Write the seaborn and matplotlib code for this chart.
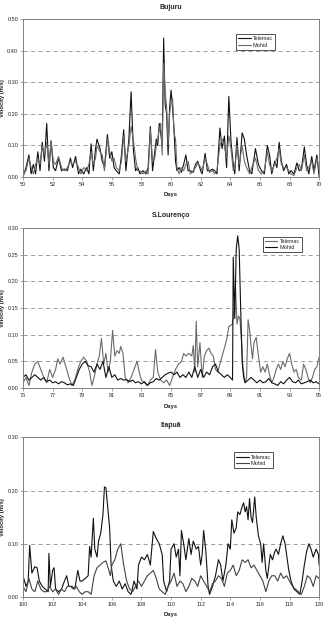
import numpy as np
import pandas as pd
import matplotlib
matplotlib.use("Agg")
import matplotlib.pyplot as plt
import seaborn as sns

# Bujuru (days 50-70), both series share the sample times
bujuru_days = [50.0, 50.2, 50.4, 50.55, 50.7, 50.85, 51.0, 51.15, 51.3, 51.45, 51.6, 51.75, 51.9, 52.05,
               52.2, 52.4, 52.6, 52.8, 53.0, 53.2, 53.35, 53.55, 53.75, 53.9, 54.1, 54.3, 54.45, 54.6,
               54.75, 54.9, 55.0, 55.2, 55.35, 55.5, 55.7, 55.85, 56.0, 56.15, 56.3, 56.5, 56.65, 56.8,
               56.95, 57.15, 57.3, 57.45, 57.6, 57.75, 57.9, 58.1, 58.3, 58.45, 58.6, 58.75, 58.9, 59.0,
               59.1, 59.2, 59.3, 59.4, 59.5, 59.6, 59.7, 59.8, 59.9, 60.0, 60.1, 60.2, 60.3, 60.4, 60.55,
               60.7, 60.85, 61.0, 61.15, 61.3, 61.5, 61.65, 61.8, 62.0, 62.1, 62.3, 62.45, 62.6, 62.8,
               62.95, 63.1, 63.3, 63.45, 63.6, 63.75, 63.9, 64.05, 64.2, 64.3, 64.45, 64.6, 64.8, 64.95,
               65.1, 65.3, 65.45, 65.7, 65.9, 66.1, 66.3, 66.5, 66.65, 66.8, 67.0, 67.15, 67.3, 67.45,
               67.6, 67.8, 67.95, 68.1, 68.3, 68.5, 68.65, 68.8, 69.0, 69.15, 69.3, 69.5, 69.65, 69.85, 70.0]
bujuru_telemac = [0.00, 0.03, 0.07, 0.01, 0.04, 0.01, 0.08, 0.02, 0.11, 0.05, 0.17, 0.02, 0.115, 0.03,
                  0.02, 0.06, 0.02, 0.025, 0.02, 0.06, 0.03, 0.065, 0.01, 0.025, 0.01, 0.03, 0.01, 0.105,
                  0.02, 0.09, 0.12, 0.09, 0.05, 0.03, 0.135, 0.06, 0.08, 0.03, 0.02, 0.01, 0.07, 0.15,
                  0.02, 0.12, 0.27, 0.09, 0.02, 0.03, 0.01, 0.02, 0.01, 0.03, 0.16, 0.02, 0.08, 0.12,
                  0.10, 0.17, 0.14, 0.10, 0.44, 0.23, 0.20, 0.07, 0.22, 0.275, 0.22, 0.15, 0.05, 0.02, 0.03,
                  0.015, 0.04, 0.07, 0.02, 0.02, 0.015, 0.04, 0.05, 0.02, 0.01, 0.075, 0.02, 0.02, 0.025,
                  0.02, 0.01, 0.155, 0.09, 0.13, 0.03, 0.255, 0.11, 0.04, 0.01, 0.125, 0.02, 0.14, 0.12,
                  0.07, 0.02, 0.01, 0.09, 0.04, 0.02, 0.01, 0.10, 0.07, 0.01, 0.05, 0.03, 0.11, 0.05,
                  0.02, 0.04, 0.01, 0.02, 0.01, 0.045, 0.02, 0.025, 0.095, 0.04, 0.01, 0.065, 0.02, 0.07, 0.00]
bujuru_mohid = [0.01, 0.02, 0.06, 0.03, 0.01, 0.04, 0.06, 0.04, 0.10, 0.07, 0.11, 0.04, 0.11, 0.05,
                0.04, 0.065, 0.03, 0.02, 0.03, 0.05, 0.04, 0.05, 0.03, 0.01, 0.03, 0.02, 0.04, 0.08,
                0.04, 0.06, 0.10, 0.08, 0.07, 0.02, 0.12, 0.08, 0.05, 0.06, 0.03, 0.02, 0.05, 0.13,
                0.05, 0.10, 0.16, 0.12, 0.06, 0.02, 0.02, 0.01, 0.02, 0.01, 0.15, 0.05, 0.06, 0.10,
                0.12, 0.15, 0.17, 0.07, 0.36, 0.27, 0.22, 0.10, 0.20, 0.24, 0.25, 0.14, 0.12, 0.03, 0.01,
                0.03, 0.02, 0.04, 0.05, 0.01, 0.02, 0.03, 0.045, 0.03, 0.02, 0.06, 0.04, 0.015, 0.02,
                0.01, 0.02, 0.10, 0.12, 0.10, 0.06, 0.13, 0.09, 0.02, 0.03, 0.10, 0.04, 0.10, 0.05,
                0.03, 0.01, 0.03, 0.06, 0.02, 0.01, 0.02, 0.08, 0.04, 0.02, 0.04, 0.06, 0.09, 0.04,
                0.03, 0.03, 0.02, 0.01, 0.005, 0.03, 0.04, 0.02, 0.07, 0.02, 0.03, 0.05, 0.01, 0.06, 0.02]

# S.Lourenco (days 75-95)
lourenco_tel_days = [75.0, 75.2, 75.4, 75.6, 75.8, 76.0, 76.2, 76.4, 76.6, 76.8, 77.0, 77.2, 77.35, 77.5,
                     77.7, 77.9, 78.1, 78.3, 78.5, 78.7, 78.9, 79.1, 79.3, 79.5, 79.65, 79.8, 80.0, 80.15,
                     80.3, 80.45, 80.6, 80.75, 80.9, 81.05, 81.2, 81.35, 81.5, 81.6, 81.75, 81.9, 82.1,
                     82.3, 82.5, 82.7, 82.85, 83.0, 83.2, 83.4, 83.6, 83.8, 83.95, 84.1, 84.3, 84.5, 84.7,
                     84.9, 85.1, 85.3, 85.5, 85.7, 85.85, 86.0, 86.2, 86.4, 86.5, 86.6, 86.7, 86.8, 86.95,
                     87.1, 87.25, 87.4, 87.55, 87.7, 87.85, 88.0, 88.15, 88.3, 88.45, 88.6, 88.75, 88.9,
                     89.05, 89.15, 89.25, 89.35, 89.45, 89.55, 89.65, 89.75, 89.85, 90.0, 90.1, 90.2, 90.3,
                     90.4, 90.5, 90.6, 90.75, 90.9, 91.05, 91.2, 91.35, 91.5, 91.65, 91.8, 91.95, 92.1,
                     92.25, 92.4, 92.55, 92.7, 92.85, 93.0, 93.15, 93.3, 93.45, 93.6, 93.8, 93.95, 94.1,
                     94.25, 94.4, 94.55, 94.7, 94.85, 95.0]
lourenco_telemac = [0.01, 0.02, 0.005, 0.03, 0.045, 0.05, 0.035, 0.02, 0.01, 0.035, 0.02, 0.035, 0.055, 0.045,
                    0.058, 0.04, 0.02, 0.005, 0.015, 0.035, 0.05, 0.058, 0.05, 0.03, 0.005, 0.02, 0.045, 0.06,
                    0.093, 0.045, 0.065, 0.03, 0.05, 0.108, 0.06, 0.07, 0.065, 0.078, 0.065, 0.02, 0.01,
                    0.02, 0.035, 0.05, 0.03, 0.015, 0.01, 0.005, 0.015, 0.02, 0.072, 0.03, 0.015, 0.01, 0.015,
                    0.005, 0.02, 0.035, 0.045, 0.05, 0.065, 0.06, 0.065, 0.06, 0.08, 0.03, 0.125, 0.04, 0.085,
                    0.02, 0.06, 0.07, 0.075, 0.065, 0.06, 0.035, 0.03, 0.045, 0.06, 0.075, 0.09, 0.115,
                    0.118, 0.12, 0.15, 0.19, 0.12, 0.135, 0.13, 0.09, 0.04, 0.01, 0.02, 0.128, 0.11,
                    0.08, 0.055, 0.085, 0.095, 0.06, 0.03, 0.04, 0.03, 0.045, 0.025, 0.01, 0.02, 0.035,
                    0.045, 0.035, 0.05, 0.04, 0.055, 0.065, 0.045, 0.03, 0.035, 0.02, 0.015, 0.045, 0.035,
                    0.02, 0.01, 0.02, 0.035, 0.04, 0.058]
lourenco_moh_days = [75.0, 75.2, 75.4, 75.6, 75.8, 76.0, 76.2, 76.4, 76.6, 76.8, 77.0, 77.2, 77.4, 77.6,
                     77.8, 78.0, 78.2, 78.4, 78.6, 78.8, 79.0, 79.2, 79.4, 79.6, 79.8, 80.0, 80.2, 80.4,
                     80.6, 80.8, 81.0, 81.2, 81.4, 81.6, 81.8, 82.0, 82.2, 82.4, 82.6, 82.8, 83.0, 83.2,
                     83.4, 83.6, 83.8, 84.0, 84.2, 84.4, 84.6, 84.8, 85.0, 85.2, 85.4, 85.6, 85.8, 86.0,
                     86.2, 86.4, 86.6, 86.8, 87.0, 87.2, 87.4, 87.6, 87.8, 88.0, 88.2, 88.4, 88.6, 88.8,
                     89.0, 89.15, 89.2, 89.3, 89.4, 89.5, 89.6, 89.7, 89.8, 89.9, 90.0, 90.2, 90.4, 90.6,
                     90.8, 91.0, 91.2, 91.4, 91.6, 91.8, 92.0, 92.2, 92.4, 92.6, 92.8, 93.0, 93.2, 93.4,
                     93.6, 93.8, 94.0, 94.2, 94.4, 94.6, 94.8, 95.0]
lourenco_mohid = [0.02, 0.025, 0.015, 0.02, 0.025, 0.02, 0.015, 0.02, 0.012, 0.015, 0.01, 0.012, 0.008, 0.012,
                  0.01, 0.006, 0.008, 0.005, 0.02, 0.035, 0.045, 0.05, 0.042, 0.04, 0.03, 0.045, 0.035, 0.05,
                  0.02, 0.04, 0.02, 0.025, 0.015, 0.018, 0.015, 0.016, 0.012, 0.015, 0.01, 0.012, 0.008, 0.012,
                  0.005, 0.01, 0.012, 0.018, 0.015, 0.02, 0.025, 0.028, 0.03, 0.025, 0.03, 0.02, 0.025, 0.02,
                  0.03, 0.02, 0.04, 0.02, 0.035, 0.02, 0.03, 0.025, 0.04, 0.045, 0.03, 0.025, 0.02, 0.025,
                  0.02, 0.015, 0.245, 0.13, 0.26, 0.285, 0.26, 0.15, 0.05, 0.02, 0.01, 0.015, 0.02, 0.015,
                  0.01, 0.015, 0.01, 0.012, 0.018, 0.01, 0.008, 0.005, 0.012, 0.008, 0.015, 0.02, 0.012, 0.01,
                  0.015, 0.008, 0.01, 0.012, 0.015, 0.01, 0.012, 0.008]

# Itapua (days 100-120)
itapua_tel_days = [100.0, 100.2, 100.35, 100.45, 100.6, 100.8, 100.95, 101.1, 101.3, 101.5, 101.7, 101.75,
                   101.85, 102.0, 102.1, 102.2, 102.4, 102.6, 102.8, 102.95, 103.1, 103.3, 103.5, 103.7,
                   103.85, 104.0, 104.2, 104.4, 104.5, 104.6, 104.75, 104.85, 105.0, 105.1, 105.25, 105.4,
                   105.5, 105.6, 105.7, 105.85, 105.95, 106.1, 106.3, 106.5, 106.7, 106.9, 107.1, 107.3,
                   107.5, 107.7, 107.8, 108.0, 108.2, 108.4, 108.6, 108.8, 109.0, 109.2, 109.4, 109.5,
                   109.7, 109.9, 110.0, 110.2, 110.35, 110.5, 110.6, 110.7, 110.85, 111.0, 111.2, 111.35,
                   111.5, 111.7, 111.85, 112.0, 112.1, 112.2, 112.35, 112.5, 112.6, 112.8, 113.0, 113.2,
                   113.35, 113.5, 113.7, 113.85, 114.0, 114.1, 114.25, 114.4, 114.5, 114.65, 114.8, 114.9,
                   115.0, 115.1, 115.2, 115.3, 115.4, 115.5, 115.65, 115.75, 115.9, 116.05, 116.15, 116.25,
                   116.4, 116.5, 116.7, 116.85, 117.0, 117.1, 117.25, 117.4, 117.55, 117.7, 117.8, 117.95,
                   118.1, 118.3, 118.5, 118.7, 118.85, 119.0, 119.15, 119.3, 119.45, 119.6, 119.8, 119.95, 120.0]
itapua_telemac = [0.04, 0.02, 0.03, 0.097, 0.045, 0.057, 0.055, 0.03, 0.02, 0.015, 0.01, 0.082,
                  0.02, 0.05, 0.055, 0.015, 0.01, 0.015, 0.03, 0.04, 0.02, 0.02, 0.015, 0.05,
                  0.03, 0.03, 0.035, 0.04, 0.095, 0.075, 0.148, 0.09, 0.075, 0.105, 0.12, 0.155,
                  0.207, 0.205, 0.175, 0.13, 0.06, 0.03, 0.02, 0.03, 0.015, 0.025, 0.01, 0.005,
                  0.03, 0.015, 0.06, 0.075, 0.07, 0.08, 0.06, 0.123, 0.11, 0.10, 0.08, 0.03,
                  0.01, 0.03, 0.09, 0.10, 0.075, 0.09, 0.04, 0.125, 0.10, 0.07, 0.11, 0.08,
                  0.105, 0.09, 0.095, 0.06, 0.08, 0.125, 0.085, 0.02, 0.005, 0.02, 0.04, 0.07,
                  0.06, 0.03, 0.06, 0.10, 0.09, 0.145, 0.12, 0.13, 0.16, 0.155, 0.17, 0.177,
                  0.16, 0.17, 0.145, 0.185, 0.15, 0.14, 0.188, 0.15, 0.115, 0.10, 0.065, 0.10,
                  0.05, 0.035, 0.08, 0.07, 0.085, 0.09, 0.08, 0.10, 0.115, 0.10, 0.08, 0.05,
                  0.03, 0.015, 0.01, 0.005, 0.03, 0.06, 0.085, 0.10, 0.09, 0.075, 0.09, 0.08, 0.06]
itapua_moh_days = [100.0, 100.2, 100.4, 100.6, 100.8, 101.0, 101.2, 101.4, 101.6, 101.8, 102.0, 102.2,
                   102.4, 102.6, 102.8, 103.0, 103.2, 103.4, 103.6, 103.8, 104.0, 104.2, 104.4, 104.6,
                   104.8, 105.0, 105.2, 105.4, 105.6, 105.8, 105.9, 106.0, 106.2, 106.4, 106.6, 106.8,
                   107.0, 107.2, 107.4, 107.6, 107.8, 108.0, 108.2, 108.4, 108.6, 108.8, 109.0, 109.2,
                   109.4, 109.6, 109.8, 110.0, 110.2, 110.4, 110.6, 110.8, 111.0, 111.2, 111.4, 111.6,
                   111.8, 112.0, 112.2, 112.4, 112.6, 112.8, 113.0, 113.2, 113.4, 113.6, 113.8, 114.0,
                   114.2, 114.4, 114.6, 114.8, 115.0, 115.2, 115.4, 115.6, 115.8, 116.0, 116.2, 116.4,
                   116.6, 116.8, 117.0, 117.2, 117.4, 117.6, 117.8, 118.0, 118.2, 118.4, 118.6, 118.8,
                   119.0, 119.2, 119.4, 119.6, 119.8, 120.0]
itapua_mohid = [0.02, 0.01, 0.035, 0.015, 0.01, 0.03, 0.015, 0.01, 0.01, 0.02, 0.01, 0.015,
                0.005, 0.015, 0.01, 0.02, 0.02, 0.015, 0.02, 0.01, 0.005, 0.01, 0.01, 0.005,
                0.04, 0.055, 0.06, 0.065, 0.068, 0.05, 0.04, 0.06, 0.07, 0.09, 0.10, 0.06,
                0.03, 0.015, 0.01, 0.02, 0.03, 0.02, 0.03, 0.04, 0.045, 0.05, 0.035, 0.015,
                0.01, 0.005, 0.02, 0.03, 0.045, 0.02, 0.03, 0.025, 0.01, 0.02, 0.035, 0.03,
                0.02, 0.04, 0.03, 0.02, 0.01, 0.025, 0.03, 0.04, 0.035, 0.02, 0.045, 0.05,
                0.06, 0.04, 0.05, 0.07, 0.065, 0.07, 0.055, 0.06, 0.05, 0.04, 0.03, 0.01,
                0.03, 0.04, 0.04, 0.03, 0.045, 0.035, 0.04, 0.03, 0.02, 0.015, 0.01, 0.005,
                0.02, 0.04, 0.035, 0.02, 0.04, 0.035]

sns.set_style("white")
plt.rcParams["font.family"] = ["Liberation Sans", "DejaVu Sans"]

fig = plt.figure(figsize=(3.24, 6.19), dpi=100)

panels = [
    # title, tel days, tel vals, moh days, moh vals, xlim, ymax, ystep, axes rect, legend anchor, colours
    ("Bujuru", bujuru_days, bujuru_telemac, bujuru_days, bujuru_mohid, (50, 70), 0.50, 0.10,
     [0.071, 0.714, 0.914, 0.255], (0.72, 0.905), ("#111111", "#6a6a6a")),
    ("S.Lourenço", lourenco_tel_days, lourenco_telemac, lourenco_moh_days, lourenco_mohid, (75, 95), 0.30, 0.05,
     [0.071, 0.373, 0.914, 0.259], (0.81, 0.944), ("#6a6a6a", "#111111")),
    ("Itapuã", itapua_tel_days, itapua_telemac, itapua_moh_days, itapua_mohid, (100, 120), 0.30, 0.10,
     [0.071, 0.0355, 0.914, 0.258], (0.713, 0.906), ("#111111", "#444444")),
]

for title, td, tv, md, mv, xlim, ymax, ystep, rect, anchor, cols in panels:
    ax = fig.add_axes(rect)
    df = pd.concat([
        pd.DataFrame({"Days": td, "Velocity": tv, "Model": "Telemac"}),
        pd.DataFrame({"Days": md, "Velocity": mv, "Model": "Mohid"}),
    ])
    sns.lineplot(data=df, x="Days", y="Velocity", hue="Model", palette=list(cols),
                 linewidth=0.8, ax=ax, estimator=None, sort=False)
    ax.set_xlim(*xlim)
    ax.set_ylim(0, ymax)
    ax.set_xticks(np.arange(xlim[0], xlim[1] + 1, 2))
    yt = np.arange(0, ymax + ystep / 2, ystep)
    ax.set_yticks(yt)
    ax.set_yticklabels([f"{v:.2f}" for v in yt])
    for v in yt[1:-1]:
        ax.axhline(v, color="#8c8c8c", linestyle=(0, (5, 4)), linewidth=0.6, zorder=0)
    for s in ax.spines.values():
        s.set_color("#808080")
        s.set_linewidth(0.7)
    ax.tick_params(axis="both", labelsize=4, length=2, width=0.5, color="#808080", pad=1.5,
                   direction="out", bottom=True, left=True)
    ax.set_title(title, fontsize=5, fontweight="bold", pad=7.5)
    ax.set_xlabel("Days", fontsize=4.2, fontweight="bold", labelpad=4)
    ax.set_ylabel("Velocity (m/s)", fontsize=4.2, fontweight="bold")
    ax.yaxis.set_label_coords(-0.062, 0.5)
    leg = ax.legend(loc="upper left", bbox_to_anchor=anchor, fontsize=4, frameon=True, fancybox=False,
                    handlelength=2.2, borderpad=0.4, labelspacing=0.2, handletextpad=0.4, borderaxespad=0)
    leg.get_frame().set_edgecolor("black")
    leg.get_frame().set_linewidth(0.6)
    leg.set_title(None)

fig.savefig("out.png", dpi=100)
